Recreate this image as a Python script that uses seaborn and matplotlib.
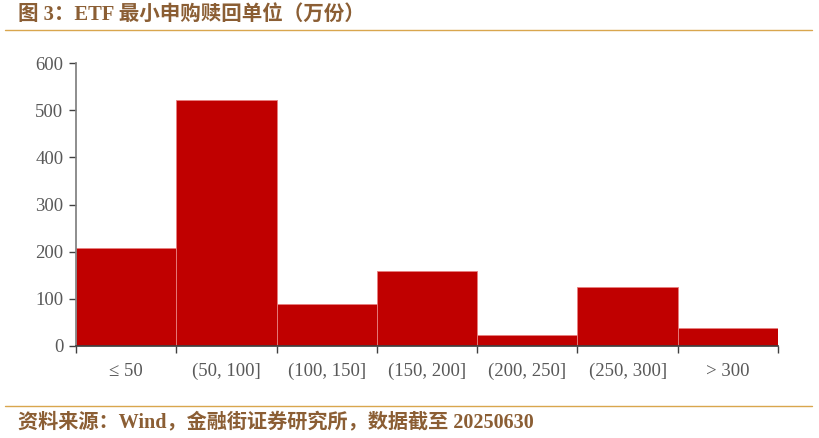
import matplotlib
matplotlib.use("Agg")
import matplotlib.pyplot as plt
import seaborn as sns
import numpy as np

# 数据
categories = ["≤ 50", "(50, 100]", "(100, 150]", "(150, 200]", "(200, 250]", "(250, 300]", "> 300"]
values = [207, 521, 89, 159, 23, 125, 38]
y_ticks = [0, 100, 200, 300, 400, 500, 600]

title = "图 3：ETF 最小申购赎回单位（万份）"
source = "资料来源：Wind，金融街证券研究所，数据截至 20250630"

sns.set_theme(style="white")
plt.rcParams["font.family"] = ["Liberation Serif", "Noto Sans CJK SC"]

fig = plt.figure(figsize=(8.19, 4.38), dpi=100)
ax = fig.add_axes([76 / 819, 1 - 346 / 438, (778 - 76) / 819, (346 - 63) / 438])

sns.barplot(x=categories, y=values, color="#C00000", saturation=1, width=1,
            edgecolor="#E88080", linewidth=0.6, ax=ax)

ax.set_xlim(-0.5, len(categories) - 0.5)
ax.set_ylim(0, 600)
ax.set_yticks(y_ticks)
ax.set_xlabel("")
ax.set_ylabel("")

# 刻度：主刻度在分界处，标签在柱中心
ax.set_xticks(np.arange(len(categories) + 1) - 0.5)
ax.set_xticklabels([])
ax.set_xticks(np.arange(len(categories)), minor=True)
ax.set_xticklabels(categories, minor=True)
ax.tick_params(axis="x", which="major", direction="out", length=5, width=1, color="#404040", bottom=True)
ax.tick_params(axis="x", which="minor", length=0, pad=12, labelsize=13.5, labelcolor="#595959")
ax.tick_params(axis="y", direction="out", length=5, width=1, color="#404040", left=True,
               labelsize=13.5, labelcolor="#595959", pad=4)

for side in ["top", "right"]:
    ax.spines[side].set_visible(False)
ax.spines["left"].set_color("#808080")
ax.spines["bottom"].set_color("#404040")

# 标题与来源
fig.text(18 / 819, 1 - 15 / 438, title, fontsize=14.8, fontweight="bold", color="#8B5E34",
         va="center", ha="left", family=["Liberation Serif", "Noto Sans CJK SC"])
fig.text(18 / 819, 1 - 422 / 438, source, fontsize=14.5, fontweight="bold", color="#8B5E34",
         va="center", ha="left", family=["Liberation Serif", "Noto Sans CJK SC"])

line_color = "#D9A64E"
fig.add_artist(plt.Line2D([5 / 819, 812 / 819], [1 - 30 / 438, 1 - 30 / 438], color=line_color, lw=1))
fig.add_artist(plt.Line2D([5 / 819, 812 / 819], [1 - 406 / 438, 1 - 406 / 438], color=line_color, lw=1))

fig.savefig("out.png", dpi=100)
